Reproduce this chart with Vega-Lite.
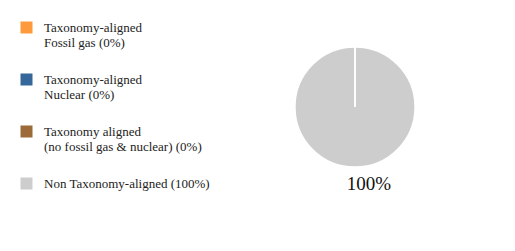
{
  "$schema": "https://vega.github.io/schema/vega-lite/v6.json",
  "autosize": {"type": "none"},
  "width": 120,
  "height": 120,
  "padding": {"left": 295, "top": 47, "right": 100, "bottom": 84},
  "background": "#ffffff",
  "data": {
    "values": [
      {"category": "Non Taxonomy-aligned (100%)", "value": 1, "order": 1},
      {"category": "Taxonomy-aligned|Fossil gas (0%)", "value": 0, "order": 2},
      {"category": "Taxonomy-aligned|Nuclear (0%)", "value": 0, "order": 3},
      {"category": "Taxonomy aligned|(no fossil gas & nuclear) (0%)", "value": 0, "order": 4}
    ]
  },
  "layer": [
    {
      "mark": {"type": "arc", "stroke": "#ffffff", "strokeWidth": 1.3},
      "encoding": {
        "theta": {"field": "value", "type": "quantitative", "stack": true},
        "order": {"field": "order", "type": "quantitative"},
        "color": {
          "field": "category",
          "type": "nominal",
          "sort": null,
          "scale": {
            "domain": [
              "Taxonomy-aligned|Fossil gas (0%)",
              "Taxonomy-aligned|Nuclear (0%)",
              "Taxonomy aligned|(no fossil gas & nuclear) (0%)",
              "Non Taxonomy-aligned (100%)"
            ],
            "range": ["#ff9a3c", "#35679a", "#9b6a38", "#cdcdcd"]
          },
          "legend": {
            "title": null,
            "orient": "none",
            "legendX": -275,
            "legendY": -26,
            "symbolType": "square",
            "symbolSize": 144,
            "symbolStrokeWidth": 0,
            "symbolOpacity": 1,
            "labelFont": "Liberation Serif",
            "labelFontSize": 13,
            "labelColor": "#222222",
            "labelOffset": 11,
            "labelLimit": 300,
            "rowPadding": 23,
            "labelExpr": "split(datum.label, '|')",
            "encode": {"labels": {"update": {"lineHeight": {"value": 14}, "font": {"value": "Liberation Serif"}}}}
          }
        }
      }
    },
    {
      "transform": [{"filter": "datum.value > 0"}],
      "mark": {"type": "text", "font": "Liberation Serif", "fontSize": 19, "color": "#111111", "dx": 14, "dy": 77, "baseline": "middle"},
      "encoding": {
        "text": {"field": "value", "type": "quantitative", "format": ".0%"},
        "x": {"value": 60},
        "y": {"value": 60}
      }
    }
  ],
  "config": {"font": "Liberation Serif", "view": {"stroke": null}, "legend": {"labelFont": "Liberation Serif"}}
}
